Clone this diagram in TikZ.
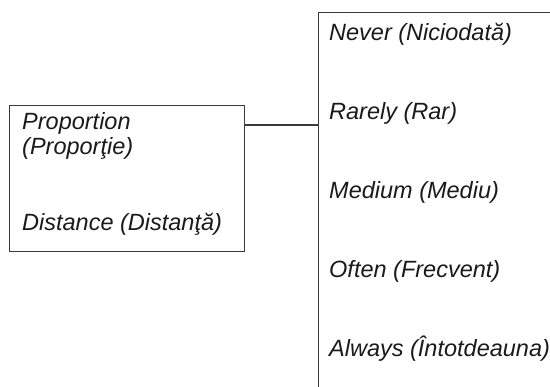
\documentclass[tikz,border=0pt]{standalone}
\usepackage{fontspec}
\setmainfont{Liberation Sans}
\usepackage{xcolor}
\usepackage{tikz}
\usetikzlibrary{positioning}
\definecolor{edge}{HTML}{3A3A3A}
\definecolor{ink}{HTML}{1A1A1A}

\begin{document}
\begin{tikzpicture}[x=1pt, y=-1pt,
  box/.style={draw=edge, line width=1.1pt, inner sep=0pt, anchor=north west},
  item/.style={inner sep=0pt, anchor=base west, text=ink, font=\fontsize{23.5}{25}\selectfont\itshape},
  link/.style={draw=edge, line width=1.1pt}
]
  \useasboundingbox (0,0) rectangle (550,387);
  \clip (0,0) rectangle (550,387);

  % boxes
  \node[box, minimum width=235pt, minimum height=146pt] (dims) at (9,105) {};
  \node[box, minimum width=260pt, minimum height=400pt] (levels) at (318,12) {};

  % left box text
  \node[item] (prop) at ([xshift=13pt, yshift=-25pt]dims.north west) {Proportion};
  \node[item] (propro) at ([yshift=-25pt]prop.base west) {(Proporţie)};
  \node[item] (dist) at ([yshift=-76pt]propro.base west) {Distance (Distanţă)};

  % right box text
  \node[item] (never) at ([xshift=11pt, yshift=-29pt]levels.north west) {Never (Niciodată)};
  \node[item] (rarely) at ([yshift=-79pt]never.base west) {Rarely (Rar)};
  \node[item] (medium) at ([yshift=-79pt]rarely.base west) {Medium (Mediu)};
  \node[item] (often) at ([yshift=-79pt]medium.base west) {Often (Frecvent)};
  \node[item] (always) at ([yshift=-79pt]often.base west) {Always (Întotdeauna)};

  \draw[link] ([yshift=-20pt]dims.north east) -- ([yshift=-20pt]dims.north east -| levels.west);
\end{tikzpicture}
\end{document}
